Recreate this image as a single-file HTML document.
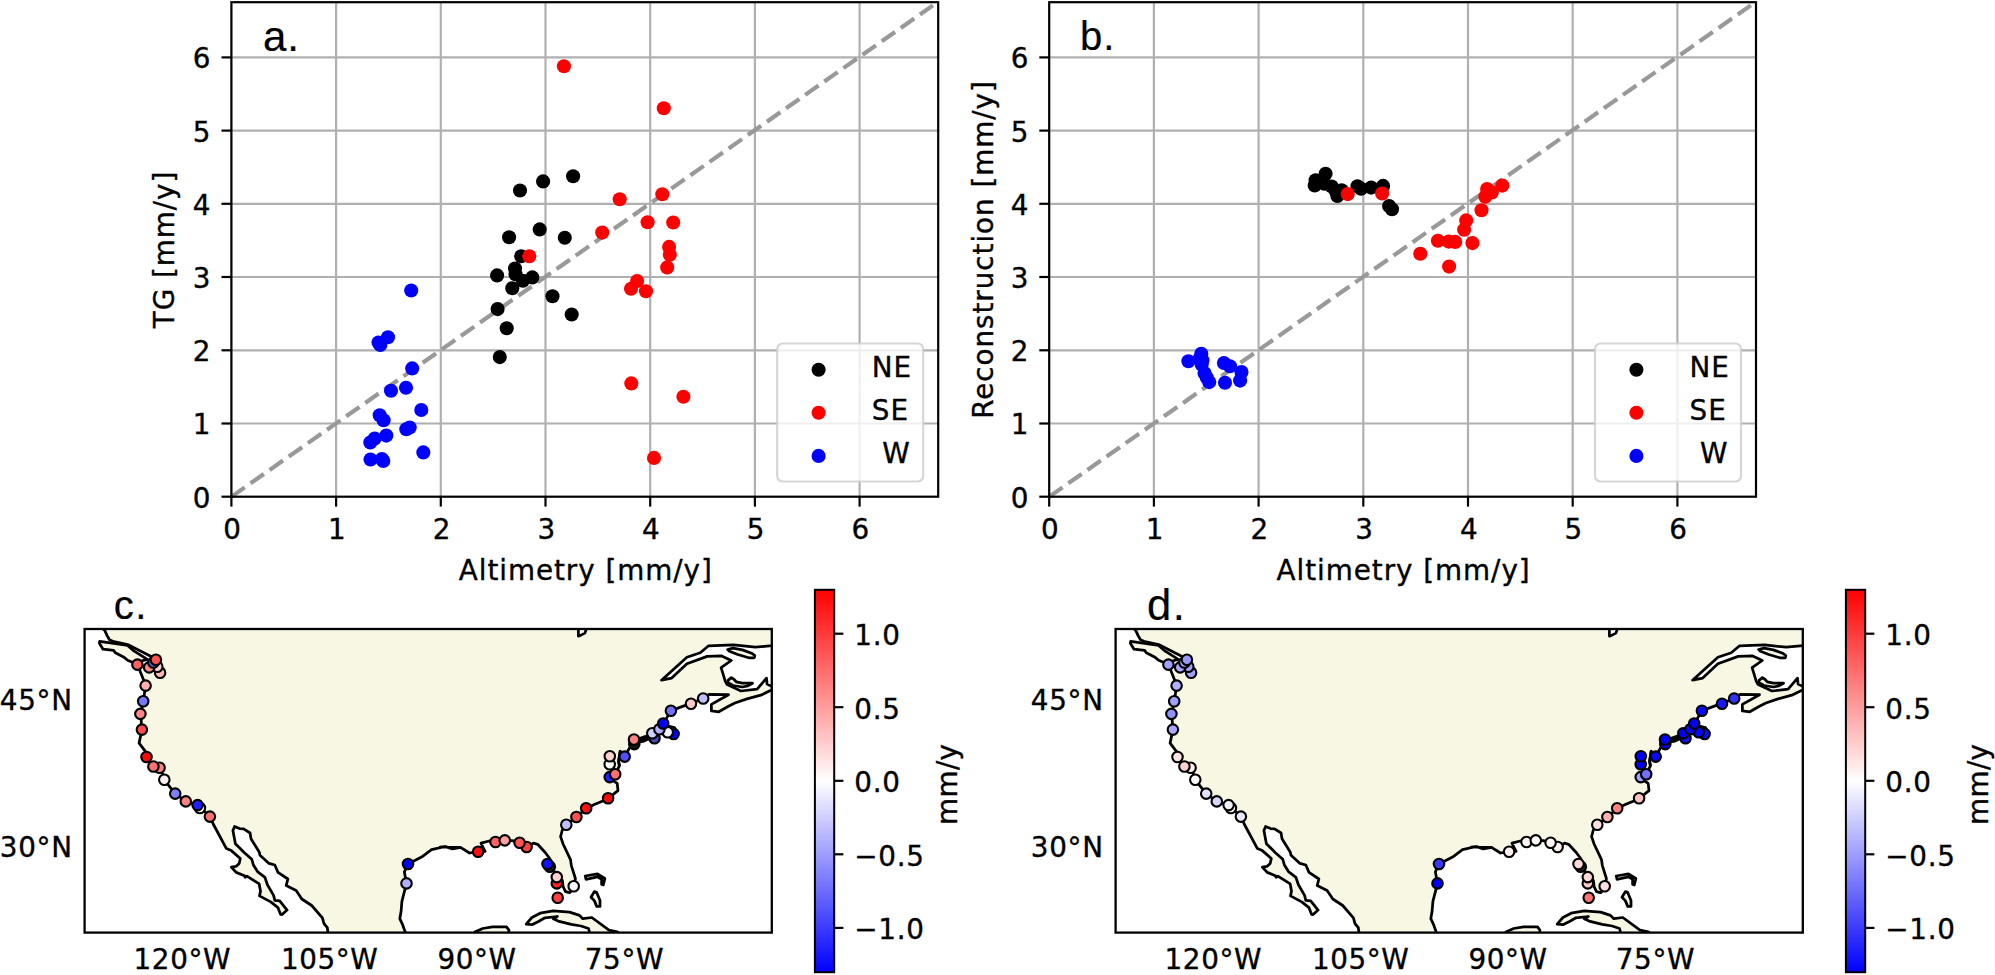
<!DOCTYPE html>
<html><head><meta charset="utf-8"><title>Figure</title>
<style>
html,body{margin:0;padding:0;background:#fff;}
svg{display:block;}
text{font-family:"DejaVu Sans","Liberation Sans",sans-serif;font-size:27.8px;fill:#000;letter-spacing:0.95px;stroke:#000;stroke-width:0.35px;}
.pl{font-family:"Liberation Sans","DejaVu Sans",sans-serif;font-size:40px;letter-spacing:1px;stroke-width:0.2px;}
</style></head><body>
<svg width="1995" height="975" viewBox="0 0 1995 975">
<rect width="1995" height="975" fill="#fff"/>

<g>
<line x1="336.1" y1="2.2" x2="336.1" y2="496.7" stroke="#b0b0b0" stroke-width="2.2"/>
<line x1="231.4" y1="423.5" x2="938.2" y2="423.5" stroke="#b0b0b0" stroke-width="2.2"/>
<line x1="440.8" y1="2.2" x2="440.8" y2="496.7" stroke="#b0b0b0" stroke-width="2.2"/>
<line x1="231.4" y1="350.3" x2="938.2" y2="350.3" stroke="#b0b0b0" stroke-width="2.2"/>
<line x1="545.5" y1="2.2" x2="545.5" y2="496.7" stroke="#b0b0b0" stroke-width="2.2"/>
<line x1="231.4" y1="277.0" x2="938.2" y2="277.0" stroke="#b0b0b0" stroke-width="2.2"/>
<line x1="650.2" y1="2.2" x2="650.2" y2="496.7" stroke="#b0b0b0" stroke-width="2.2"/>
<line x1="231.4" y1="203.8" x2="938.2" y2="203.8" stroke="#b0b0b0" stroke-width="2.2"/>
<line x1="754.9" y1="2.2" x2="754.9" y2="496.7" stroke="#b0b0b0" stroke-width="2.2"/>
<line x1="231.4" y1="130.6" x2="938.2" y2="130.6" stroke="#b0b0b0" stroke-width="2.2"/>
<line x1="859.6" y1="2.2" x2="859.6" y2="496.7" stroke="#b0b0b0" stroke-width="2.2"/>
<line x1="231.4" y1="57.4" x2="938.2" y2="57.4" stroke="#b0b0b0" stroke-width="2.2"/>
<line x1="231.4" y1="496.7" x2="933.0" y2="5.4" stroke="#999999" stroke-width="4.2" stroke-dasharray="16.3 7.05"/>
<circle cx="573.1" cy="176.2" r="7.05" fill="#000"/>
<circle cx="543.1" cy="181.4" r="7.05" fill="#000"/>
<circle cx="520.0" cy="190.5" r="7.05" fill="#000"/>
<circle cx="539.7" cy="229.4" r="7.05" fill="#000"/>
<circle cx="509.1" cy="237.2" r="7.05" fill="#000"/>
<circle cx="564.8" cy="237.7" r="7.05" fill="#000"/>
<circle cx="521.2" cy="256.2" r="7.05" fill="#000"/>
<circle cx="515.0" cy="268.5" r="7.05" fill="#000"/>
<circle cx="515.5" cy="274.2" r="7.05" fill="#000"/>
<circle cx="497.1" cy="275.4" r="7.05" fill="#000"/>
<circle cx="532.3" cy="277.4" r="7.05" fill="#000"/>
<circle cx="522.9" cy="280.8" r="7.05" fill="#000"/>
<circle cx="512.3" cy="288.2" r="7.05" fill="#000"/>
<circle cx="552.5" cy="296.3" r="7.05" fill="#000"/>
<circle cx="497.6" cy="309.1" r="7.05" fill="#000"/>
<circle cx="571.7" cy="314.5" r="7.05" fill="#000"/>
<circle cx="506.7" cy="328.3" r="7.05" fill="#000"/>
<circle cx="499.8" cy="357.1" r="7.05" fill="#000"/>
<circle cx="529.3" cy="256.2" r="7.05" fill="#ff0000"/>
<circle cx="602.2" cy="232.6" r="7.05" fill="#ff0000"/>
<circle cx="619.7" cy="199.3" r="7.05" fill="#ff0000"/>
<circle cx="563.9" cy="66.2" r="7.05" fill="#ff0000"/>
<circle cx="663.8" cy="108.3" r="7.05" fill="#ff0000"/>
<circle cx="662.3" cy="194.2" r="7.05" fill="#ff0000"/>
<circle cx="647.6" cy="222.2" r="7.05" fill="#ff0000"/>
<circle cx="673.2" cy="222.5" r="7.05" fill="#ff0000"/>
<circle cx="669.1" cy="246.9" r="7.05" fill="#ff0000"/>
<circle cx="669.8" cy="254.7" r="7.05" fill="#ff0000"/>
<circle cx="667.2" cy="267.4" r="7.05" fill="#ff0000"/>
<circle cx="637.1" cy="281.0" r="7.05" fill="#ff0000"/>
<circle cx="631.0" cy="288.7" r="7.05" fill="#ff0000"/>
<circle cx="646.0" cy="291.2" r="7.05" fill="#ff0000"/>
<circle cx="631.3" cy="383.4" r="7.05" fill="#ff0000"/>
<circle cx="683.4" cy="396.7" r="7.05" fill="#ff0000"/>
<circle cx="654.0" cy="457.9" r="7.05" fill="#ff0000"/>
<circle cx="411.2" cy="290.5" r="7.05" fill="#0000ff"/>
<circle cx="388.0" cy="337.3" r="7.05" fill="#0000ff"/>
<circle cx="378.5" cy="342.5" r="7.05" fill="#0000ff"/>
<circle cx="380.3" cy="345.0" r="7.05" fill="#0000ff"/>
<circle cx="412.2" cy="368.4" r="7.05" fill="#0000ff"/>
<circle cx="406.0" cy="387.8" r="7.05" fill="#0000ff"/>
<circle cx="391.0" cy="390.8" r="7.05" fill="#0000ff"/>
<circle cx="421.3" cy="410.0" r="7.05" fill="#0000ff"/>
<circle cx="379.7" cy="415.2" r="7.05" fill="#0000ff"/>
<circle cx="383.6" cy="420.3" r="7.05" fill="#0000ff"/>
<circle cx="409.7" cy="427.5" r="7.05" fill="#0000ff"/>
<circle cx="406.3" cy="429.2" r="7.05" fill="#0000ff"/>
<circle cx="386.3" cy="435.6" r="7.05" fill="#0000ff"/>
<circle cx="374.7" cy="438.6" r="7.05" fill="#0000ff"/>
<circle cx="370.3" cy="442.5" r="7.05" fill="#0000ff"/>
<circle cx="423.3" cy="452.4" r="7.05" fill="#0000ff"/>
<circle cx="370.5" cy="459.5" r="7.05" fill="#0000ff"/>
<circle cx="381.9" cy="459.0" r="7.05" fill="#0000ff"/>
<circle cx="383.3" cy="461.0" r="7.05" fill="#0000ff"/>
<rect x="777.2" y="343.5" width="146" height="138" rx="5.5" ry="5.5" fill="#fff" fill-opacity="0.8" stroke="#cccccc" stroke-opacity="0.8" stroke-width="2.2"/>
<circle cx="818.6" cy="369.7" r="7.05" fill="#000"/>
<text x="871.8" y="376.6">NE</text>
<circle cx="818.6" cy="412.8" r="7.05" fill="#ff0000"/>
<text x="871.8" y="419.7">SE</text>
<circle cx="818.6" cy="455.9" r="7.05" fill="#0000ff"/>
<text x="882.2" y="462.8">W</text>
<rect x="231.4" y="2.2" width="706.8" height="494.5" fill="none" stroke="#000" stroke-width="2.2"/>
<line x1="231.4" y1="496.7" x2="231.4" y2="506.6" stroke="#000" stroke-width="2.2"/>
<text x="232.6" y="538.7" text-anchor="middle">0</text>
<line x1="221.5" y1="496.7" x2="231.4" y2="496.7" stroke="#000" stroke-width="2.2"/>
<text x="211.5" y="507.6" text-anchor="end">0</text>
<line x1="336.1" y1="496.7" x2="336.1" y2="506.6" stroke="#000" stroke-width="2.2"/>
<text x="337.3" y="538.7" text-anchor="middle">1</text>
<line x1="221.5" y1="423.5" x2="231.4" y2="423.5" stroke="#000" stroke-width="2.2"/>
<text x="211.5" y="434.4" text-anchor="end">1</text>
<line x1="440.8" y1="496.7" x2="440.8" y2="506.6" stroke="#000" stroke-width="2.2"/>
<text x="442.0" y="538.7" text-anchor="middle">2</text>
<line x1="221.5" y1="350.3" x2="231.4" y2="350.3" stroke="#000" stroke-width="2.2"/>
<text x="211.5" y="361.2" text-anchor="end">2</text>
<line x1="545.5" y1="496.7" x2="545.5" y2="506.6" stroke="#000" stroke-width="2.2"/>
<text x="546.7" y="538.7" text-anchor="middle">3</text>
<line x1="221.5" y1="277.0" x2="231.4" y2="277.0" stroke="#000" stroke-width="2.2"/>
<text x="211.5" y="287.9" text-anchor="end">3</text>
<line x1="650.2" y1="496.7" x2="650.2" y2="506.6" stroke="#000" stroke-width="2.2"/>
<text x="651.4" y="538.7" text-anchor="middle">4</text>
<line x1="221.5" y1="203.8" x2="231.4" y2="203.8" stroke="#000" stroke-width="2.2"/>
<text x="211.5" y="214.7" text-anchor="end">4</text>
<line x1="754.9" y1="496.7" x2="754.9" y2="506.6" stroke="#000" stroke-width="2.2"/>
<text x="756.1" y="538.7" text-anchor="middle">5</text>
<line x1="221.5" y1="130.6" x2="231.4" y2="130.6" stroke="#000" stroke-width="2.2"/>
<text x="211.5" y="141.5" text-anchor="end">5</text>
<line x1="859.6" y1="496.7" x2="859.6" y2="506.6" stroke="#000" stroke-width="2.2"/>
<text x="860.8" y="538.7" text-anchor="middle">6</text>
<line x1="221.5" y1="57.4" x2="231.4" y2="57.4" stroke="#000" stroke-width="2.2"/>
<text x="211.5" y="68.3" text-anchor="end">6</text>
<text x="585.8" y="579.6" text-anchor="middle">Altimetry [mm/y]</text>
<text transform="translate(174.2,249.5) rotate(-90)" text-anchor="middle">TG [mm/y]</text>
<text class="pl" x="262.9" y="51.3" style="font-size:42px;letter-spacing:1px">a.</text>
</g>
<g>
<line x1="1153.9" y1="2.2" x2="1153.9" y2="496.7" stroke="#b0b0b0" stroke-width="2.2"/>
<line x1="1049.2" y1="423.5" x2="1756.0" y2="423.5" stroke="#b0b0b0" stroke-width="2.2"/>
<line x1="1258.6" y1="2.2" x2="1258.6" y2="496.7" stroke="#b0b0b0" stroke-width="2.2"/>
<line x1="1049.2" y1="350.3" x2="1756.0" y2="350.3" stroke="#b0b0b0" stroke-width="2.2"/>
<line x1="1363.3" y1="2.2" x2="1363.3" y2="496.7" stroke="#b0b0b0" stroke-width="2.2"/>
<line x1="1049.2" y1="277.0" x2="1756.0" y2="277.0" stroke="#b0b0b0" stroke-width="2.2"/>
<line x1="1468.0" y1="2.2" x2="1468.0" y2="496.7" stroke="#b0b0b0" stroke-width="2.2"/>
<line x1="1049.2" y1="203.8" x2="1756.0" y2="203.8" stroke="#b0b0b0" stroke-width="2.2"/>
<line x1="1572.7" y1="2.2" x2="1572.7" y2="496.7" stroke="#b0b0b0" stroke-width="2.2"/>
<line x1="1049.2" y1="130.6" x2="1756.0" y2="130.6" stroke="#b0b0b0" stroke-width="2.2"/>
<line x1="1677.4" y1="2.2" x2="1677.4" y2="496.7" stroke="#b0b0b0" stroke-width="2.2"/>
<line x1="1049.2" y1="57.4" x2="1756.0" y2="57.4" stroke="#b0b0b0" stroke-width="2.2"/>
<line x1="1049.2" y1="496.7" x2="1750.8" y2="5.4" stroke="#999999" stroke-width="4.2" stroke-dasharray="16.3 7.05"/>
<circle cx="1325.6" cy="173.7" r="7.05" fill="#000"/>
<circle cx="1315.6" cy="180.2" r="7.05" fill="#000"/>
<circle cx="1314.7" cy="185.5" r="7.05" fill="#000"/>
<circle cx="1324.5" cy="183.8" r="7.05" fill="#000"/>
<circle cx="1331.7" cy="186.6" r="7.05" fill="#000"/>
<circle cx="1336.0" cy="191.7" r="7.05" fill="#000"/>
<circle cx="1337.4" cy="196.0" r="7.05" fill="#000"/>
<circle cx="1341.7" cy="190.2" r="7.05" fill="#000"/>
<circle cx="1357.5" cy="186.2" r="7.05" fill="#000"/>
<circle cx="1361.1" cy="188.8" r="7.05" fill="#000"/>
<circle cx="1371.2" cy="187.6" r="7.05" fill="#000"/>
<circle cx="1383.1" cy="185.9" r="7.05" fill="#000"/>
<circle cx="1389.1" cy="206.0" r="7.05" fill="#000"/>
<circle cx="1392.0" cy="209.2" r="7.05" fill="#000"/>
<circle cx="1347.7" cy="194.1" r="7.05" fill="#ff0000"/>
<circle cx="1382.1" cy="193.5" r="7.05" fill="#ff0000"/>
<circle cx="1502.3" cy="185.6" r="7.05" fill="#ff0000"/>
<circle cx="1487.1" cy="189.1" r="7.05" fill="#ff0000"/>
<circle cx="1491.8" cy="192.4" r="7.05" fill="#ff0000"/>
<circle cx="1485.3" cy="196.7" r="7.05" fill="#ff0000"/>
<circle cx="1481.5" cy="210.3" r="7.05" fill="#ff0000"/>
<circle cx="1466.2" cy="220.4" r="7.05" fill="#ff0000"/>
<circle cx="1464.1" cy="229.7" r="7.05" fill="#ff0000"/>
<circle cx="1437.9" cy="240.8" r="7.05" fill="#ff0000"/>
<circle cx="1448.7" cy="241.6" r="7.05" fill="#ff0000"/>
<circle cx="1455.2" cy="241.9" r="7.05" fill="#ff0000"/>
<circle cx="1472.4" cy="243.1" r="7.05" fill="#ff0000"/>
<circle cx="1420.3" cy="253.7" r="7.05" fill="#ff0000"/>
<circle cx="1449.1" cy="266.6" r="7.05" fill="#ff0000"/>
<circle cx="1201.3" cy="353.7" r="7.05" fill="#0000ff"/>
<circle cx="1188.4" cy="361.2" r="7.05" fill="#0000ff"/>
<circle cx="1199.5" cy="358.7" r="7.05" fill="#0000ff"/>
<circle cx="1202.4" cy="360.2" r="7.05" fill="#0000ff"/>
<circle cx="1201.7" cy="364.5" r="7.05" fill="#0000ff"/>
<circle cx="1204.5" cy="373.1" r="7.05" fill="#0000ff"/>
<circle cx="1206.7" cy="377.4" r="7.05" fill="#0000ff"/>
<circle cx="1209.2" cy="382.1" r="7.05" fill="#0000ff"/>
<circle cx="1223.9" cy="363.0" r="7.05" fill="#0000ff"/>
<circle cx="1230.0" cy="366.3" r="7.05" fill="#0000ff"/>
<circle cx="1241.5" cy="372.0" r="7.05" fill="#0000ff"/>
<circle cx="1240.1" cy="380.6" r="7.05" fill="#0000ff"/>
<circle cx="1225.0" cy="382.8" r="7.05" fill="#0000ff"/>
<rect x="1595.0" y="343.5" width="146" height="138" rx="5.5" ry="5.5" fill="#fff" fill-opacity="0.8" stroke="#cccccc" stroke-opacity="0.8" stroke-width="2.2"/>
<circle cx="1636.4" cy="369.7" r="7.05" fill="#000"/>
<text x="1689.6" y="376.6">NE</text>
<circle cx="1636.4" cy="412.8" r="7.05" fill="#ff0000"/>
<text x="1689.6" y="419.7">SE</text>
<circle cx="1636.4" cy="455.9" r="7.05" fill="#0000ff"/>
<text x="1700.0" y="462.8">W</text>
<rect x="1049.2" y="2.2" width="706.8" height="494.5" fill="none" stroke="#000" stroke-width="2.2"/>
<line x1="1049.2" y1="496.7" x2="1049.2" y2="506.6" stroke="#000" stroke-width="2.2"/>
<text x="1050.4" y="538.7" text-anchor="middle">0</text>
<line x1="1039.3" y1="496.7" x2="1049.2" y2="496.7" stroke="#000" stroke-width="2.2"/>
<text x="1029.3" y="507.6" text-anchor="end">0</text>
<line x1="1153.9" y1="496.7" x2="1153.9" y2="506.6" stroke="#000" stroke-width="2.2"/>
<text x="1155.1" y="538.7" text-anchor="middle">1</text>
<line x1="1039.3" y1="423.5" x2="1049.2" y2="423.5" stroke="#000" stroke-width="2.2"/>
<text x="1029.3" y="434.4" text-anchor="end">1</text>
<line x1="1258.6" y1="496.7" x2="1258.6" y2="506.6" stroke="#000" stroke-width="2.2"/>
<text x="1259.8" y="538.7" text-anchor="middle">2</text>
<line x1="1039.3" y1="350.3" x2="1049.2" y2="350.3" stroke="#000" stroke-width="2.2"/>
<text x="1029.3" y="361.2" text-anchor="end">2</text>
<line x1="1363.3" y1="496.7" x2="1363.3" y2="506.6" stroke="#000" stroke-width="2.2"/>
<text x="1364.5" y="538.7" text-anchor="middle">3</text>
<line x1="1039.3" y1="277.0" x2="1049.2" y2="277.0" stroke="#000" stroke-width="2.2"/>
<text x="1029.3" y="287.9" text-anchor="end">3</text>
<line x1="1468.0" y1="496.7" x2="1468.0" y2="506.6" stroke="#000" stroke-width="2.2"/>
<text x="1469.2" y="538.7" text-anchor="middle">4</text>
<line x1="1039.3" y1="203.8" x2="1049.2" y2="203.8" stroke="#000" stroke-width="2.2"/>
<text x="1029.3" y="214.7" text-anchor="end">4</text>
<line x1="1572.7" y1="496.7" x2="1572.7" y2="506.6" stroke="#000" stroke-width="2.2"/>
<text x="1573.9" y="538.7" text-anchor="middle">5</text>
<line x1="1039.3" y1="130.6" x2="1049.2" y2="130.6" stroke="#000" stroke-width="2.2"/>
<text x="1029.3" y="141.5" text-anchor="end">5</text>
<line x1="1677.4" y1="496.7" x2="1677.4" y2="506.6" stroke="#000" stroke-width="2.2"/>
<text x="1678.6" y="538.7" text-anchor="middle">6</text>
<line x1="1039.3" y1="57.4" x2="1049.2" y2="57.4" stroke="#000" stroke-width="2.2"/>
<text x="1029.3" y="68.3" text-anchor="end">6</text>
<text x="1403.6" y="579.6" text-anchor="middle">Altimetry [mm/y]</text>
<text transform="translate(993.0,249.5) rotate(-90)" text-anchor="middle">Reconstruction [mm/y]</text>
<text class="pl" x="1080.1" y="50.2" style="font-size:40px;letter-spacing:1px">b.</text>
</g>
<defs>
<clipPath id="mapclip"><rect x="84.6" y="629.0" width="687.2" height="303.6"/></clipPath>
<linearGradient id="bwr" x1="0" y1="0" x2="0" y2="1"><stop offset="0" stop-color="#ff0000"/><stop offset="0.5" stop-color="#ffffff"/><stop offset="1" stop-color="#0000ff"/></linearGradient>
<g id="basemap" clip-path="url(#mapclip)">
<path d="M60.0,600.0 L104.6,630.2 L107.1,635.6 L109.5,639.7 L112.8,641.3 L127.6,644.6 L152.2,656.9 L156.0,662.0 L150.0,668.0 L137.4,664.6 L143.2,679.1 L145.6,685.6 L143.2,702.0 L140.7,714.4 L141.9,729.6 L139.1,743.1 L146.5,752.9 L146.5,757.0 L153.4,766.5 L159.6,767.7 L164.5,778.4 L164.0,779.7 L175.2,793.6 L185.8,801.4 L197.6,805.1 L209.9,816.6 L213.2,824.0 L226.4,848.6 L231.3,850.6 L240.3,858.5 L239.2,863.4 L236.2,866.3 L231.3,867.0 L236.2,872.4 L244.4,875.7 L245.2,877.3 L246.9,876.2 L259.2,883.9 L260.5,891.3 L259.5,895.9 L270.7,901.9 L278.0,907.7 L280.5,914.3 L282.1,914.6 L287.1,910.1 L279.7,900.8 L274.8,900.3 L273.6,895.4 L267.4,884.7 L264.9,877.3 L257.5,871.6 L253.4,865.0 L251.8,859.3 L244.4,852.7 L235.4,843.7 L232.9,830.6 L234.6,826.5 L239.5,828.6 L243.6,828.9 L250.1,833.0 L251.0,838.8 L259.2,851.9 L260.0,855.2 L269.0,863.4 L274.8,865.0 L278.0,872.4 L287.9,879.0 L286.2,885.5 L296.1,890.5 L300.0,896.2 L301.8,899.0 L311.7,905.5 L322.4,917.8 L324.0,923.6 L327.3,927.7 L328.1,933.4 L330.0,960.0 L404.0,960.0 L405.7,933.4 L402.8,925.2 L399.8,918.7 L401.1,911.3 L401.9,901.4 L404.4,891.6 L406.5,883.4 L404.4,871.9 L408.0,864.0 L421.6,857.1 L431.5,849.7 L445.4,846.5 L452.8,848.6 L460.0,847.3 L440.0,847.0 L444.9,846.5 L452.3,848.9 L460.5,847.3 L469.5,853.0 L478.1,851.7 L485.1,851.4 L483.0,847.3 L481.0,843.2 L489.2,841.0 L495.5,842.0 L504.8,840.4 L512.2,840.7 L519.6,842.7 L526.6,847.0 L533.5,843.2 L537.6,844.3 L545.0,852.2 L549.9,858.8 L550.3,865.3 L553.2,869.4 L556.8,877.1 L562.3,880.1 L563.1,886.7 L565.5,891.6 L569.6,892.7 L573.7,888.3 L575.4,878.5 L571.3,865.3 L570.5,859.6 L563.1,844.0 L560.6,836.6 L562.3,830.0 L566.4,824.6 L576.5,817.2 L586.0,808.4 L594.3,804.6 L604.1,800.5 L608.2,798.4 L618.0,790.7 L617.2,783.3 L612.3,780.0 L614.8,774.3 L619.4,766.0 L618.6,761.1 L620.2,751.3 L624.6,756.5 L633.8,740.6 L652.2,734.0 L663.4,723.4 L671.1,710.6 L690.9,703.4 L703.1,698.4 L709.1,694.4 L728.5,694.7 L711.4,704.4 L711.4,710.9 L718.8,711.8 L728.5,706.3 L734.9,703.0 L747.0,698.9 L760.8,695.2 L773.3,689.2 L773.3,687.1 L773.3,687.1 L767.1,684.1 L766.5,678.1 L757.1,689.2 L741.0,691.0 L727.1,684.6 L725.3,681.3 L721.1,667.7 L731.3,660.5 L721.6,655.9 L707.2,656.4 L686.9,663.8 L671.7,678.1 L661.5,680.2 L686.9,657.3 L700.3,652.7 L708.6,645.8 L733.6,644.9 L755.3,647.2 L781.1,644.9 L800.0,600.0 Z" fill="#f7f7e4" stroke="#000" stroke-width="2.75" stroke-linejoin="round"/>
<path d="M578.4,628.2 L586.6,628.2 L584.9,633.1 L580.0,635.6 L578.4,636.1 Z" fill="#fff" stroke="#000" stroke-width="2.75" stroke-linejoin="round"/>
<path d="M99.7,641.3 L127.6,645.4 L134.2,651.2 L147.3,659.4 L134.2,663.0 L127.6,660.2 L123.5,656.9 L115.3,652.8 L113.6,650.4 L103.0,649.2 L99.4,643.3 L99.7,641.3 Z" fill="#f7f7e4" stroke="#000" stroke-width="2.75" stroke-linejoin="round"/>
<path d="M526.2,924.1 L531.9,917.5 L540.1,913.2 L553.2,910.9 L569.6,912.1 L579.5,915.4 L582.8,918.7 L591.8,917.5 L609.0,930.1 L617.2,931.8 L620.5,934.3 L590.1,934.3 L588.5,928.5 L581.1,926.0 L571.3,924.4 L558.1,921.1 L553.2,918.7 L557.3,916.5 L545.0,917.8 L538.5,921.5 L531.9,924.7 L526.2,924.1 Z" fill="#f7f7e4" stroke="#000" stroke-width="2.75" stroke-linejoin="round"/>
<path d="M475.3,931.8 L482.7,928.5 L492.5,926.9 L506.5,926.9 L508.9,930.1 L508.6,934.3 L472.8,934.3 L475.3,931.8 Z" fill="#f7f7e4" stroke="#000" stroke-width="2.75" stroke-linejoin="round"/>
<path d="M585.2,876.0 L597.5,873.9 L604.9,878.5 L603.3,885.0 L601.6,884.2 L601.6,879.3 L597.5,876.8 L586.0,879.3 L585.2,876.0 Z" fill="#f7f7e4" stroke="#000" stroke-width="2.75" stroke-linejoin="round"/>
<path d="M594.3,891.6 L596.7,892.4 L600.0,900.6 L600.0,906.4 L596.7,906.4 L594.3,900.6 L591.0,897.3 L594.3,891.6 Z" fill="#f7f7e4" stroke="#000" stroke-width="2.75" stroke-linejoin="round"/>
<path d="M728.0,680.4 L731.3,677.6 L733.6,679.0 L736.3,681.8 L742.3,683.2 L752.5,683.2 L747.9,685.9 L742.3,687.0 L733.1,685.5 L728.0,682.7 Z" fill="#f7f7e4" stroke="#000" stroke-width="2.75" stroke-linejoin="round"/>
<path d="M727.6,649.5 L733.1,648.1 L742.3,649.9 L751.6,653.2 L754.8,655.5 L754.3,657.8 L748.8,657.8 L737.7,654.5 L729.4,651.3 Z" fill="#f7f7e4" stroke="#000" stroke-width="2.75" stroke-linejoin="round"/>
<path d="M635.0,742.7 L644.0,741.1 L653.0,736.8 L645.6,738.5 L636.6,740.6 Z" fill="#f7f7e4" stroke="#000" stroke-width="2.75" stroke-linejoin="round"/>
<path d="M665.3,728.3 L669.4,726.3 L674.4,727.5 L677.6,732.4 L676.0,735.7" fill="none" stroke="#000" stroke-width="2.75" stroke-linejoin="round"/>
<path d="M624.6,756.5 L620.2,751.3 L618.6,761.1 L619.4,766.0" fill="none" stroke="#000" stroke-width="2.75" stroke-linejoin="round"/>
</g>
</defs>
<g transform="translate(0,0)">
<use href="#basemap"/>
<circle cx="137.4" cy="664.6" r="5.25" fill="#ff6060" stroke="#000" stroke-width="2.1"/>
<circle cx="160.1" cy="672.7" r="5.25" fill="#ffb8b8" stroke="#000" stroke-width="2.1"/>
<circle cx="157.3" cy="666.7" r="5.25" fill="#ffd0d0" stroke="#000" stroke-width="2.1"/>
<circle cx="149.2" cy="667.4" r="5.25" fill="#ff8888" stroke="#000" stroke-width="2.1"/>
<circle cx="153.4" cy="662.5" r="5.25" fill="#6060d8" stroke="#000" stroke-width="2.1"/>
<circle cx="155.9" cy="659.7" r="5.25" fill="#ff5050" stroke="#000" stroke-width="2.1"/>
<circle cx="145.6" cy="685.6" r="5.25" fill="#ffb0b0" stroke="#000" stroke-width="2.1"/>
<circle cx="143.2" cy="701.2" r="5.25" fill="#7878ff" stroke="#000" stroke-width="2.1"/>
<circle cx="140.4" cy="713.9" r="5.25" fill="#ff8888" stroke="#000" stroke-width="2.1"/>
<circle cx="141.9" cy="729.6" r="5.25" fill="#ff4848" stroke="#000" stroke-width="2.1"/>
<circle cx="146.5" cy="757.0" r="5.25" fill="#ff0808" stroke="#000" stroke-width="2.1"/>
<circle cx="159.6" cy="767.7" r="5.25" fill="#ff8080" stroke="#000" stroke-width="2.1"/>
<circle cx="153.4" cy="766.5" r="5.25" fill="#ff7070" stroke="#000" stroke-width="2.1"/>
<circle cx="164.3" cy="779.7" r="5.25" fill="#fff0f0" stroke="#000" stroke-width="2.1"/>
<circle cx="175.2" cy="793.6" r="5.25" fill="#8080ff" stroke="#000" stroke-width="2.1"/>
<circle cx="185.8" cy="801.4" r="5.25" fill="#ff8080" stroke="#000" stroke-width="2.1"/>
<circle cx="199.9" cy="808.0" r="5.25" fill="#ffffff" stroke="#000" stroke-width="2.1"/>
<circle cx="197.6" cy="805.1" r="5.25" fill="#2020ff" stroke="#000" stroke-width="2.1"/>
<circle cx="209.9" cy="816.6" r="5.25" fill="#ff7070" stroke="#000" stroke-width="2.1"/>
<circle cx="408.0" cy="864.0" r="5.25" fill="#0000ff" stroke="#000" stroke-width="2.1"/>
<circle cx="406.5" cy="883.4" r="5.25" fill="#b0b0ff" stroke="#000" stroke-width="2.1"/>
<circle cx="478.1" cy="851.7" r="5.25" fill="#ff1010" stroke="#000" stroke-width="2.1"/>
<circle cx="495.5" cy="842.0" r="5.25" fill="#ff6060" stroke="#000" stroke-width="2.1"/>
<circle cx="504.8" cy="840.4" r="5.25" fill="#ffa0a0" stroke="#000" stroke-width="2.1"/>
<circle cx="526.6" cy="847.0" r="5.25" fill="#ff4040" stroke="#000" stroke-width="2.1"/>
<circle cx="519.6" cy="842.7" r="5.25" fill="#ff5555" stroke="#000" stroke-width="2.1"/>
<circle cx="549.8" cy="866.8" r="5.25" fill="#202020" stroke="#000" stroke-width="2.1"/>
<circle cx="547.5" cy="864.0" r="5.25" fill="#1010ff" stroke="#000" stroke-width="2.1"/>
<circle cx="556.8" cy="883.4" r="5.25" fill="#ff2020" stroke="#000" stroke-width="2.1"/>
<circle cx="556.8" cy="877.1" r="5.25" fill="#ffd0d0" stroke="#000" stroke-width="2.1"/>
<circle cx="573.7" cy="886.3" r="5.25" fill="#f8f8ff" stroke="#000" stroke-width="2.1"/>
<circle cx="557.7" cy="897.8" r="5.25" fill="#ff4040" stroke="#000" stroke-width="2.1"/>
<circle cx="566.3" cy="824.7" r="5.25" fill="#c0c0ff" stroke="#000" stroke-width="2.1"/>
<circle cx="576.4" cy="817.0" r="5.25" fill="#ff5050" stroke="#000" stroke-width="2.1"/>
<circle cx="586.2" cy="808.3" r="5.25" fill="#ff1010" stroke="#000" stroke-width="2.1"/>
<circle cx="608.1" cy="798.2" r="5.25" fill="#ff0808" stroke="#000" stroke-width="2.1"/>
<circle cx="609.7" cy="777.1" r="5.25" fill="#2020ff" stroke="#000" stroke-width="2.1"/>
<circle cx="615.2" cy="774.3" r="5.25" fill="#ff7070" stroke="#000" stroke-width="2.1"/>
<circle cx="609.7" cy="764.2" r="5.25" fill="#ffffff" stroke="#000" stroke-width="2.1"/>
<circle cx="609.8" cy="756.3" r="5.25" fill="#ffd0d0" stroke="#000" stroke-width="2.1"/>
<circle cx="624.7" cy="756.6" r="5.25" fill="#5050ff" stroke="#000" stroke-width="2.1"/>
<circle cx="634.3" cy="744.1" r="5.25" fill="#181818" stroke="#000" stroke-width="2.1"/>
<circle cx="634.0" cy="739.5" r="5.25" fill="#ff8080" stroke="#000" stroke-width="2.1"/>
<circle cx="654.5" cy="738.2" r="5.25" fill="#4848b8" stroke="#000" stroke-width="2.1"/>
<circle cx="673.6" cy="734.0" r="5.25" fill="#0000ff" stroke="#000" stroke-width="2.1"/>
<circle cx="667.7" cy="732.3" r="5.25" fill="#f4f4ff" stroke="#000" stroke-width="2.1"/>
<circle cx="652.3" cy="733.3" r="5.25" fill="#d0d0ff" stroke="#000" stroke-width="2.1"/>
<circle cx="659.4" cy="729.2" r="5.25" fill="#b0b0ff" stroke="#000" stroke-width="2.1"/>
<circle cx="663.2" cy="723.5" r="5.25" fill="#0000ff" stroke="#000" stroke-width="2.1"/>
<circle cx="670.9" cy="710.7" r="5.25" fill="#7070ff" stroke="#000" stroke-width="2.1"/>
<circle cx="691.0" cy="703.8" r="5.25" fill="#ffc8c8" stroke="#000" stroke-width="2.1"/>
<circle cx="703.2" cy="698.5" r="5.25" fill="#c0c0ff" stroke="#000" stroke-width="2.1"/>
<rect x="84.6" y="629.0" width="687.2" height="303.6" fill="none" stroke="#000" stroke-width="2.3"/>
<text x="182.3" y="968.5" text-anchor="middle" style="letter-spacing:0.6px">120°W</text>
<text x="329.7" y="968.5" text-anchor="middle" style="letter-spacing:0.6px">105°W</text>
<text x="477.0" y="968.5" text-anchor="middle" style="letter-spacing:0.6px">90°W</text>
<text x="624.4" y="968.5" text-anchor="middle" style="letter-spacing:0.6px">75°W</text>
<text x="72.9" y="709.7" text-anchor="end" style="letter-spacing:0.8px">45°N</text>
<text x="72.9" y="857.1" text-anchor="end" style="letter-spacing:0.8px">30°N</text>
<text class="pl" x="113.8" y="618.9" style="font-size:40px;letter-spacing:1.5px">c.</text>
<rect x="814.9" y="589.8" width="19.3" height="382.4" fill="url(#bwr)" stroke="#000" stroke-width="2.0"/>
<line x1="834.2" y1="633.7" x2="843.4" y2="633.7" stroke="#000" stroke-width="2.2"/>
<text x="854.3" y="645.0" style="letter-spacing:0.7px">1.0</text>
<line x1="834.2" y1="707.2" x2="843.4" y2="707.2" stroke="#000" stroke-width="2.2"/>
<text x="854.3" y="718.5" style="letter-spacing:0.7px">0.5</text>
<line x1="834.2" y1="780.8" x2="843.4" y2="780.8" stroke="#000" stroke-width="2.2"/>
<text x="854.3" y="792.1" style="letter-spacing:0.7px">0.0</text>
<line x1="834.2" y1="854.3" x2="843.4" y2="854.3" stroke="#000" stroke-width="2.2"/>
<text x="854.3" y="865.6" style="letter-spacing:0.7px">−0.5</text>
<line x1="834.2" y1="927.9" x2="843.4" y2="927.9" stroke="#000" stroke-width="2.2"/>
<text x="854.3" y="939.2" style="letter-spacing:0.7px">−1.0</text>
<text transform="translate(957.2,784.3) rotate(-90)" text-anchor="middle" style="letter-spacing:0.3px">mm/y</text>
</g>
<g transform="translate(1031,0)">
<use href="#basemap"/>
<circle cx="137.4" cy="664.6" r="5.25" fill="#a0a0ff" stroke="#000" stroke-width="2.1"/>
<circle cx="160.1" cy="672.7" r="5.25" fill="#a0a0ff" stroke="#000" stroke-width="2.1"/>
<circle cx="157.3" cy="666.7" r="5.25" fill="#a0a0ff" stroke="#000" stroke-width="2.1"/>
<circle cx="149.2" cy="667.4" r="5.25" fill="#a8a8ff" stroke="#000" stroke-width="2.1"/>
<circle cx="153.4" cy="662.5" r="5.25" fill="#a8a8ff" stroke="#000" stroke-width="2.1"/>
<circle cx="155.9" cy="659.7" r="5.25" fill="#9898ff" stroke="#000" stroke-width="2.1"/>
<circle cx="145.6" cy="685.6" r="5.25" fill="#b0b0ff" stroke="#000" stroke-width="2.1"/>
<circle cx="143.2" cy="701.2" r="5.25" fill="#a0a0ff" stroke="#000" stroke-width="2.1"/>
<circle cx="140.4" cy="713.9" r="5.25" fill="#9090ff" stroke="#000" stroke-width="2.1"/>
<circle cx="141.9" cy="729.6" r="5.25" fill="#a8a8ff" stroke="#000" stroke-width="2.1"/>
<circle cx="146.5" cy="757.0" r="5.25" fill="#ffe4e4" stroke="#000" stroke-width="2.1"/>
<circle cx="159.6" cy="767.7" r="5.25" fill="#fff0f0" stroke="#000" stroke-width="2.1"/>
<circle cx="153.4" cy="766.5" r="5.25" fill="#ffd0d0" stroke="#000" stroke-width="2.1"/>
<circle cx="164.3" cy="779.7" r="5.25" fill="#ffffff" stroke="#000" stroke-width="2.1"/>
<circle cx="175.2" cy="793.6" r="5.25" fill="#e0e0ff" stroke="#000" stroke-width="2.1"/>
<circle cx="185.8" cy="801.4" r="5.25" fill="#d8d8ff" stroke="#000" stroke-width="2.1"/>
<circle cx="199.9" cy="808.0" r="5.25" fill="#ffffff" stroke="#000" stroke-width="2.1"/>
<circle cx="197.6" cy="805.1" r="5.25" fill="#f0f0ff" stroke="#000" stroke-width="2.1"/>
<circle cx="209.9" cy="816.6" r="5.25" fill="#e8e8ff" stroke="#000" stroke-width="2.1"/>
<circle cx="408.0" cy="864.0" r="5.25" fill="#3838ff" stroke="#000" stroke-width="2.1"/>
<circle cx="406.5" cy="883.4" r="5.25" fill="#0000ff" stroke="#000" stroke-width="2.1"/>
<circle cx="478.1" cy="851.7" r="5.25" fill="#fff0f0" stroke="#000" stroke-width="2.1"/>
<circle cx="495.5" cy="842.0" r="5.25" fill="#fff4f4" stroke="#000" stroke-width="2.1"/>
<circle cx="504.8" cy="840.4" r="5.25" fill="#fff8f8" stroke="#000" stroke-width="2.1"/>
<circle cx="526.6" cy="847.0" r="5.25" fill="#fff0f0" stroke="#000" stroke-width="2.1"/>
<circle cx="519.6" cy="842.7" r="5.25" fill="#fff4f4" stroke="#000" stroke-width="2.1"/>
<circle cx="549.8" cy="866.8" r="5.25" fill="#202020" stroke="#000" stroke-width="2.1"/>
<circle cx="547.5" cy="864.0" r="5.25" fill="#ffd8d8" stroke="#000" stroke-width="2.1"/>
<circle cx="556.8" cy="883.4" r="5.25" fill="#ffc8c8" stroke="#000" stroke-width="2.1"/>
<circle cx="556.8" cy="877.1" r="5.25" fill="#ffd8d8" stroke="#000" stroke-width="2.1"/>
<circle cx="573.7" cy="886.3" r="5.25" fill="#ffe0e0" stroke="#000" stroke-width="2.1"/>
<circle cx="557.7" cy="897.8" r="5.25" fill="#ff7070" stroke="#000" stroke-width="2.1"/>
<circle cx="566.3" cy="824.7" r="5.25" fill="#ffe0e0" stroke="#000" stroke-width="2.1"/>
<circle cx="576.4" cy="817.0" r="5.25" fill="#ffb0b0" stroke="#000" stroke-width="2.1"/>
<circle cx="586.2" cy="808.3" r="5.25" fill="#ff8080" stroke="#000" stroke-width="2.1"/>
<circle cx="608.1" cy="798.2" r="5.25" fill="#ffc0c0" stroke="#000" stroke-width="2.1"/>
<circle cx="609.7" cy="777.1" r="5.25" fill="#a0a0ff" stroke="#000" stroke-width="2.1"/>
<circle cx="615.2" cy="774.3" r="5.25" fill="#7070ff" stroke="#000" stroke-width="2.1"/>
<circle cx="609.7" cy="764.2" r="5.25" fill="#0000ff" stroke="#000" stroke-width="2.1"/>
<circle cx="609.8" cy="756.3" r="5.25" fill="#0000ff" stroke="#000" stroke-width="2.1"/>
<circle cx="624.7" cy="756.6" r="5.25" fill="#0808ff" stroke="#000" stroke-width="2.1"/>
<circle cx="634.3" cy="744.1" r="5.25" fill="#0000ff" stroke="#000" stroke-width="2.1"/>
<circle cx="634.0" cy="739.5" r="5.25" fill="#0000ff" stroke="#000" stroke-width="2.1"/>
<circle cx="654.5" cy="738.2" r="5.25" fill="#1010ff" stroke="#000" stroke-width="2.1"/>
<circle cx="673.6" cy="734.0" r="5.25" fill="#0808ff" stroke="#000" stroke-width="2.1"/>
<circle cx="667.7" cy="732.3" r="5.25" fill="#0808ff" stroke="#000" stroke-width="2.1"/>
<circle cx="652.3" cy="733.3" r="5.25" fill="#0000ff" stroke="#000" stroke-width="2.1"/>
<circle cx="659.4" cy="729.2" r="5.25" fill="#0808ff" stroke="#000" stroke-width="2.1"/>
<circle cx="663.2" cy="723.5" r="5.25" fill="#0000ff" stroke="#000" stroke-width="2.1"/>
<circle cx="670.9" cy="710.7" r="5.25" fill="#0808ff" stroke="#000" stroke-width="2.1"/>
<circle cx="691.0" cy="703.8" r="5.25" fill="#1818ff" stroke="#000" stroke-width="2.1"/>
<circle cx="703.2" cy="698.5" r="5.25" fill="#3030ff" stroke="#000" stroke-width="2.1"/>
<rect x="84.6" y="629.0" width="687.2" height="303.6" fill="none" stroke="#000" stroke-width="2.3"/>
<text x="182.3" y="968.5" text-anchor="middle" style="letter-spacing:0.6px">120°W</text>
<text x="329.7" y="968.5" text-anchor="middle" style="letter-spacing:0.6px">105°W</text>
<text x="477.0" y="968.5" text-anchor="middle" style="letter-spacing:0.6px">90°W</text>
<text x="624.4" y="968.5" text-anchor="middle" style="letter-spacing:0.6px">75°W</text>
<text x="72.9" y="709.7" text-anchor="end" style="letter-spacing:0.8px">45°N</text>
<text x="72.9" y="857.1" text-anchor="end" style="letter-spacing:0.8px">30°N</text>
<text class="pl" x="116.0" y="619.6" style="font-size:43.5px;letter-spacing:1.5px">d.</text>
<rect x="814.9" y="589.8" width="19.3" height="382.4" fill="url(#bwr)" stroke="#000" stroke-width="2.0"/>
<line x1="834.2" y1="633.7" x2="843.4" y2="633.7" stroke="#000" stroke-width="2.2"/>
<text x="854.3" y="645.0" style="letter-spacing:0.7px">1.0</text>
<line x1="834.2" y1="707.2" x2="843.4" y2="707.2" stroke="#000" stroke-width="2.2"/>
<text x="854.3" y="718.5" style="letter-spacing:0.7px">0.5</text>
<line x1="834.2" y1="780.8" x2="843.4" y2="780.8" stroke="#000" stroke-width="2.2"/>
<text x="854.3" y="792.1" style="letter-spacing:0.7px">0.0</text>
<line x1="834.2" y1="854.3" x2="843.4" y2="854.3" stroke="#000" stroke-width="2.2"/>
<text x="854.3" y="865.6" style="letter-spacing:0.7px">−0.5</text>
<line x1="834.2" y1="927.9" x2="843.4" y2="927.9" stroke="#000" stroke-width="2.2"/>
<text x="854.3" y="939.2" style="letter-spacing:0.7px">−1.0</text>
<text transform="translate(957.2,784.3) rotate(-90)" text-anchor="middle" style="letter-spacing:0.3px">mm/y</text>
</g>
</svg></body></html>
